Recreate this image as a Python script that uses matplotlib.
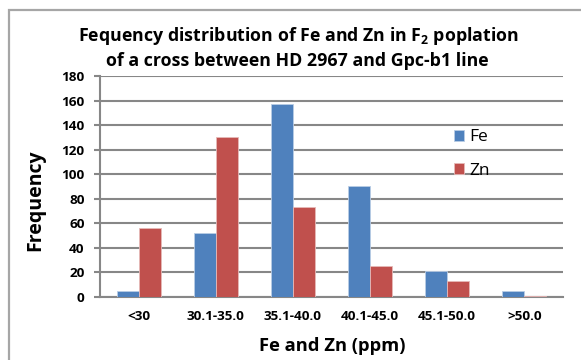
import matplotlib
matplotlib.use("Agg")
import matplotlib.pyplot as plt
import numpy as np
from matplotlib.patches import Rectangle

# frequency of F2 plants per concentration class
classes = ["<30", "30.1-35.0", "35.1-40.0", "40.1-45.0", "45.1-50.0", ">50.0"]
fe_counts = [5, 52, 157, 90, 21, 5]
zn_counts = [56, 130, 73, 25, 13, 1]
y_ticks = [0, 20, 40, 60, 80, 100, 120, 140, 160, 180]

FE_COLOR = "#4F81BD"
ZN_COLOR = "#C0504D"
GRID = "#878787"
FONT = "Open Sans"

plt.rcParams["font.family"] = [FONT, "DejaVu Sans"]
plt.rcParams["mathtext.fontset"] = "custom"
plt.rcParams["mathtext.rm"] = f"{FONT}:bold"
plt.rcParams["mathtext.it"] = f"{FONT}:bold"
plt.rcParams["mathtext.bf"] = f"{FONT}:bold"

fig = plt.figure(figsize=(5.81, 3.60), dpi=100)
W, H = 581, 360
ax = fig.add_axes([100 / W, 1 - 297 / H, 463 / W, 221 / H])

# outer chart frame (runs off the right and bottom edge)
fig.patches.append(Rectangle((8.5 / W, -0.1), 1.2, 1 - 9.5 / H + 0.1,
                             transform=fig.transFigure, fill=False,
                             edgecolor="#A6A6A6", lw=1.6))

x = np.arange(len(classes))
bw = 0.285
ax.bar(x - bw / 2, fe_counts, bw, color=FE_COLOR, edgecolor="#B9CDE5",
       linewidth=0.6, label="Fe", zorder=3)
ax.bar(x + bw / 2, zn_counts, bw, color=ZN_COLOR, edgecolor="#E6B9B8",
       linewidth=0.6, label="Zn", zorder=3)

ax.set_xlim(-0.5, len(classes) - 0.5)
ax.set_ylim(0, 180)
ax.set_yticks(y_ticks)
ax.set_xticks(x)
ax.set_xticklabels(classes)
ax.yaxis.grid(True, color=GRID, lw=1.5, zorder=0)
ax.set_axisbelow(True)

for side in ("top", "right"):
    ax.spines[side].set_visible(False)
for side in ("left", "bottom"):
    ax.spines[side].set_color(GRID)
    ax.spines[side].set_linewidth(1.5)

ax.tick_params(axis="y", length=4, width=1.5, color=GRID, pad=7,
               labelsize=9.7)
ax.tick_params(axis="x", length=0, pad=9, labelsize=9.7)
for lab in ax.get_xticklabels() + ax.get_yticklabels():
    lab.set_fontweight("bold")

# axis titles placed in figure pixels
fig.text(35 / W, 1 - 200 / H, "Frequency", rotation=90, ha="center",
         va="center", fontsize=14, fontweight="bold")
fig.text(332 / W, 1 - 346 / H, "Fe and Zn (ppm)", ha="center", va="center",
         fontsize=13.2, fontweight="bold")

fig.text(0.514, 1 - 36 / H, "Fequency distribution of Fe and Zn in F$_2$ poplation",
         ha="center", va="center", fontsize=12.75, fontweight="bold")
fig.text(0.511, 1 - 61 / H, "of a cross between HD 2967 and Gpc-b1 line",
         ha="center", va="center", fontsize=12.75, fontweight="bold")

ax.legend(loc="upper left", bbox_to_anchor=(0.73, 0.83), frameon=False,
          fontsize=12.5, handlelength=0.6, handleheight=0.6,
          handletextpad=0.3, labelspacing=1.0)

fig.savefig("out.png", dpi=100)
